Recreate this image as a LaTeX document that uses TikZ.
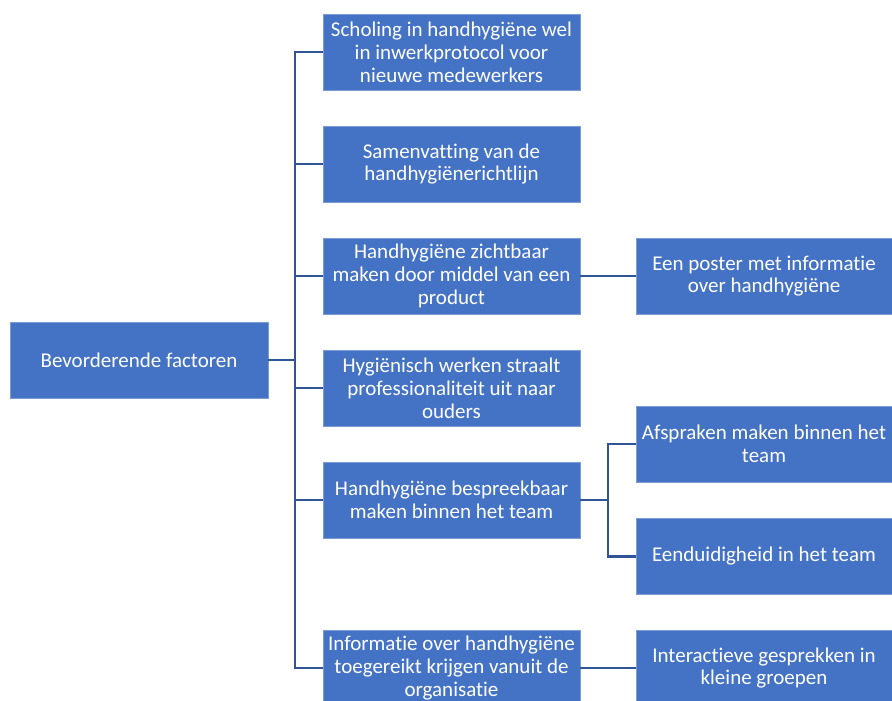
\documentclass[tikz,border=0pt]{standalone}
\usepackage{fontspec}
\setmainfont{Carlito}[Ligatures=NoCommon]
\usetikzlibrary{positioning}
\definecolor{boxblue}{HTML}{4472C4}
\definecolor{lineblue}{HTML}{2F5597}
\tikzset{
  factor/.style={rectangle, fill=boxblue, draw=boxblue!70!white, line width=0.6pt,
    text=white, minimum width=257pt, minimum height=76pt, inner sep=2pt,
    align=center, font=\fontsize{21}{22.8}\selectfont},
  link/.style={draw=lineblue, line width=2.5pt}
}
\begin{document}
\begin{tikzpicture}[x=1pt, y=-1pt]
\useasboundingbox (0,0) rectangle (892,701);
% root
\node[factor, minimum width=258pt] (root) at (139,360) {Bevorderende factoren};

% first level
\node[factor] (scholing) at (451.5,52) {Scholing in handhygiëne wel\\in inwerkprotocol voor\\nieuwe medewerkers};
\node[factor] (samenvatting) at (451.5,164) {Samenvatting van de\\handhygiënerichtlijn};
\node[factor] (zichtbaar) at (451.5,276) {Handhygiëne zichtbaar\\maken door middel van een\\product};
\node[factor] (hygienisch) at (451.5,388) {Hygiënisch werken straalt\\professionaliteit uit naar\\ouders};
\node[factor] (bespreekbaar) at (451.5,500) {Handhygiëne bespreekbaar\\maken binnen het team};
\node[factor] (informatie) at (451.5,668) {Informatie over handhygiëne\\toegereikt krijgen vanuit de\\organisatie};

% second level
\node[factor, minimum width=256pt] (poster) at (764,276) {Een poster met informatie\\over handhygiëne};
\node[factor, minimum width=256pt] (afspraken) at (764,444) {Afspraken maken binnen het\\team};
\node[factor, minimum width=256pt] (eenduidig) at (764,556.5) {Eenduidigheid in het team};
\node[factor, minimum width=256pt] (interactief) at (764,668) {Interactieve gesprekken in\\kleine groepen};

% connectors
\coordinate (bus) at (295,360);
\coordinate (teambus) at (608,500);
\draw[link] (root.east) -- (bus);
\foreach \n in {scholing, samenvatting, zichtbaar, hygienisch, bespreekbaar, informatie}
  \draw[link] (\n.west) -| (bus);
\draw[link] (zichtbaar.east) -- (poster.west);
\draw[link] (bespreekbaar.east) -- (teambus);
\draw[link] (afspraken.west) -| (teambus);
\draw[link] (eenduidig.west) -| (teambus);
\draw[link] (informatie.east) -- (interactief.west);
\end{tikzpicture}
\end{document}
